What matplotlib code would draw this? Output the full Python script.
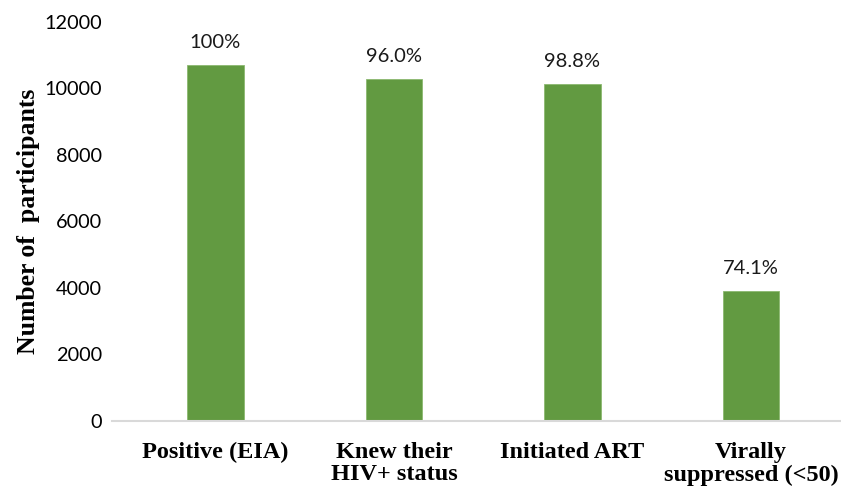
import numpy as np
import matplotlib
matplotlib.use("Agg")
import matplotlib.pyplot as plt

# data
categories = ["Positive (EIA)", "Knew their\nHIV+ status", "Initiated ART", "Virally\nsuppressed (<50)"]
participants = [10710, 10290, 10140, 3910]
pct_labels = ["100%", "96.0%", "98.8%", "74.1%"]
y_ticks = [0, 2000, 4000, 6000, 8000, 10000, 12000]

BAR_COLOR = "#629A41"

fig = plt.figure(figsize=(8.41, 4.87), dpi=100)
ax = fig.add_axes([0.133, 0.1355, 0.866, 0.8195])

x = np.arange(len(categories))
bars = ax.bar(x, participants, width=0.315, color=BAR_COLOR, edgecolor="#8CB870", linewidth=0.6)

# percentage annotations above each bar
for rect, lab in zip(bars, pct_labels):
    ax.annotate(lab, (rect.get_x() + rect.get_width() / 2, rect.get_height()),
                xytext=(0, 10), textcoords="offset points", ha="center", va="bottom",
                fontsize=14.5, family="Lato", color="#1a1a1a")

ax.set_ylim(0, 12000)
ax.set_xlim(-0.58, 3.5)
ax.set_yticks(y_ticks)
ax.set_yticklabels([str(v) for v in y_ticks], fontsize=14.3, family="Lato")
ax.set_xticks(x)
ax.set_xticklabels(categories, fontsize=17.5, family="Liberation Serif", fontweight="bold",
                   linespacing=1.1)
ax.tick_params(axis="both", length=0)
ax.tick_params(axis="x", pad=15)
ax.tick_params(axis="y", pad=7)

for side in ["top", "right", "left"]:
    ax.spines[side].set_visible(False)
ax.spines["bottom"].set_color("#D9D9D9")
ax.spines["bottom"].set_linewidth(1.5)

ax.set_ylabel("Number of  participants", fontsize=18.5, family="Liberation Serif",
              fontweight="bold")
ax.yaxis.set_label_coords(-0.099, 0.5)

fig.savefig("out.png", dpi=100)
